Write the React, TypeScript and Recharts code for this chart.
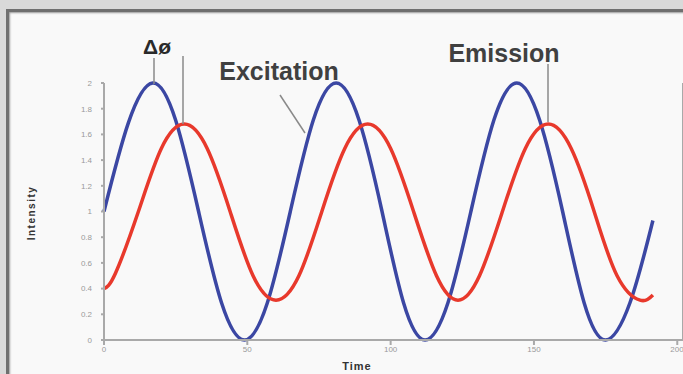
import { LineChart, Line, XAxis, YAxis } from 'recharts';

// values (time, intensity)
const excitationTime = [0, 8.5, 17, 25, 33, 41, 49, 57, 65, 73, 81, 89, 97, 104.5, 112, 120, 128, 136, 144, 152, 160, 167.5, 175, 183.5, 191.5];
const excitationValue = [1.0, 1.69, 2.0, 1.71, 1.0, 0.29, 0.0, 0.29, 1.0, 1.71, 2.0, 1.71, 1.0, 0.29, 0.0, 0.29, 1.0, 1.71, 2.0, 1.71, 1.0, 0.29, 0.0, 0.29, 0.93];

const emissionTime = [0, 4, 12, 20, 28, 36, 44, 52, 60, 68, 76, 84, 92, 100, 108, 116, 123.5, 131, 139, 147, 155, 163, 171, 179, 187, 191.5];
const emissionValue = [0.4, 0.52, 1.0, 1.49, 1.68, 1.49, 1.0, 0.5, 0.31, 0.5, 1.0, 1.49, 1.68, 1.49, 1.0, 0.5, 0.31, 0.5, 1.0, 1.49, 1.68, 1.49, 1.0, 0.5, 0.31, 0.35];

const xTicks = [0, 50, 100, 150, 200];
const yTicks = [0, 0.2, 0.4, 0.6, 0.8, 1, 1.2, 1.4, 1.6, 1.8, 2];

const excitation = excitationTime.map((t, i) => ({ t, v: excitationValue[i] }));
const emission = emissionTime.map((t, i) => ({ t, v: emissionValue[i] }));

const FONT = '"Liberation Sans", Arial, sans-serif';
const axisColor = '#a9a9a9';

export default function App() {
  return (
    <div style={{ position: 'fixed', left: 0, top: 0, width: 683, height: 374, background: '#d9d9d9', overflow: 'hidden', fontFamily: FONT }}>
      {/* photo frame */}
      <div style={{ position: 'absolute', left: 6, top: 9, width: 700, height: 400, borderLeft: '3px solid #6f6f6f', borderTop: '3px solid #6f6f6f', background: '#f9f9f9', boxShadow: 'inset 1px 1px 2px #999' }} />

      <div style={{ position: 'absolute', left: 0, top: 0 }}>
        <LineChart width={683} height={374} margin={{ top: 83, right: 0, left: 64, bottom: 0 }}>
          <XAxis
            dataKey="t"
            type="number"
            domain={[0, 202]}
            ticks={xTicks}
            height={34}
            stroke={axisColor}
            strokeWidth={2}
            tickSize={5}
            tick={{ fontSize: 8, fill: '#999', fontFamily: FONT }}
            tickMargin={1}
          />
          <YAxis
            yAxisId="left"
            type="number"
            domain={[0, 2]}
            ticks={yTicks}
            width={40}
            stroke={axisColor}
            strokeWidth={2}
            tickSize={3}
            tickMargin={9}
            tick={{ fontSize: 8, fill: '#999', fontFamily: FONT }}
            tickFormatter={(v: number) => (Number.isInteger(v) ? String(v) : v.toFixed(1))}
          />
          <YAxis
            yAxisId="right"
            orientation="right"
            type="number"
            domain={[0, 2]}
            ticks={yTicks}
            width={4}
            mirror
            stroke={axisColor}
            strokeWidth={2}
            tickSize={5}
            tickFormatter={() => ''}
          />
          <Line
            yAxisId="left"
            data={excitation}
            dataKey="v"
            type="natural"
            stroke="#3b47a3"
            strokeWidth={3.5}
            dot={false}
            isAnimationActive={false}
          />
          <Line
            yAxisId="left"
            data={emission}
            dataKey="v"
            type="natural"
            stroke="#e8392c"
            strokeWidth={3.5}
            dot={false}
            isAnimationActive={false}
          />
        </LineChart>
      </div>

      {/* annotations */}
      <svg width={683} height={374} style={{ position: 'absolute', left: 0, top: 0 }}>
        <line x1={154} y1={58} x2={154} y2={84} stroke="#8a8a8a" strokeWidth={1.5} />
        <line x1={183} y1={56} x2={183} y2={124} stroke="#8a8a8a" strokeWidth={1.5} />
        <line x1={280} y1={95} x2={305} y2={133} stroke="#8a8a8a" strokeWidth={1.5} />
        <line x1={548} y1={64} x2={548} y2={122} stroke="#8a8a8a" strokeWidth={1.5} />
        <text x={157} y={54} textAnchor="middle" fontSize={21} fontWeight="bold" fill="#2a2a2a" fontFamily={FONT}>Δø</text>
        <text x={279} y={80} textAnchor="middle" fontSize={25} fontWeight="bold" fill="#404040" fontFamily={FONT}>Excitation</text>
        <text x={504} y={62} textAnchor="middle" fontSize={25} fontWeight="bold" fill="#404040" fontFamily={FONT}>Emission</text>
        <text x={35} y={213} textAnchor="middle" fontSize={10} fontWeight="bold" letterSpacing={1.5} fill="#333" fontFamily={FONT} transform="rotate(-90 35 213)">Intensity</text>
        <text x={357} y={370} textAnchor="middle" fontSize={11} fontWeight="bold" letterSpacing={1} fill="#333" fontFamily={FONT}>Time</text>
      </svg>
    </div>
  );
}
